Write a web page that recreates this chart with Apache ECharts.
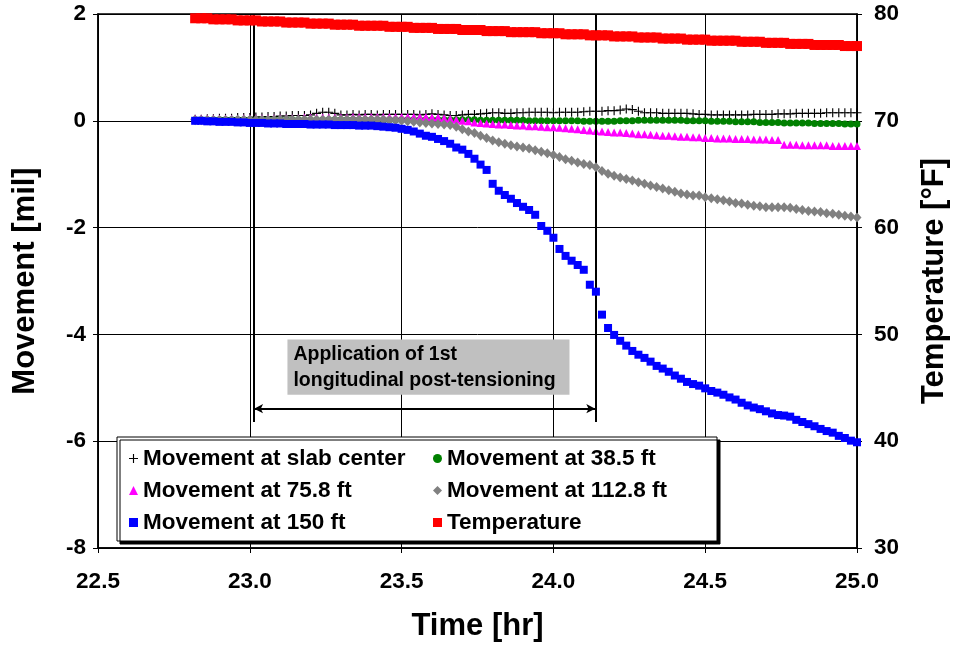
<!DOCTYPE html>
<html>
<head>
<meta charset="utf-8">
<script src="https://cdn.jsdelivr.net/npm/echarts@6/dist/echarts.min.js"></script>
<style>html,body{margin:0;padding:0;background:#fff}#c{width:958px;height:647px}</style>
</head>
<body>
<div id="c"></div>
<script>
const times = [
22.82,22.84,22.86,22.88,22.90,22.92,22.94,22.96,22.98,23.00,
23.02,23.04,23.06,23.08,23.10,23.12,23.14,23.16,23.18,23.20,
23.22,23.24,23.26,23.28,23.30,23.32,23.34,23.36,23.38,23.40,
23.42,23.44,23.46,23.48,23.50,23.52,23.54,23.56,23.58,23.60,
23.62,23.64,23.66,23.68,23.70,23.72,23.74,23.76,23.78,23.80,
23.82,23.84,23.86,23.88,23.90,23.92,23.94,23.96,23.98,24.00,
24.02,24.04,24.06,24.08,24.10,24.12,24.14,24.16,24.18,24.20,
24.22,24.24,24.26,24.28,24.30,24.32,24.34,24.36,24.38,24.40,
24.42,24.44,24.46,24.48,24.50,24.52,24.54,24.56,24.58,24.60,
24.62,24.64,24.66,24.68,24.70,24.72,24.74,24.76,24.78,24.80,
24.82,24.84,24.86,24.88,24.90,24.92,24.94,24.96,24.98,25.00];

const movCenter = [
0.03,0.03,0.04,0.04,0.05,0.05,0.05,0.06,0.06,0.06,
0.07,0.07,0.08,0.08,0.09,0.09,0.10,0.10,0.10,0.11,
0.14,0.16,0.16,0.14,0.11,0.11,0.12,0.11,0.12,0.12,
0.11,0.12,0.12,0.12,0.12,0.12,0.12,0.11,0.12,0.13,
0.12,0.11,0.10,0.10,0.11,0.12,0.12,0.13,0.14,0.15,
0.15,0.14,0.14,0.15,0.15,0.16,0.16,0.16,0.16,0.15,
0.16,0.16,0.16,0.16,0.17,0.18,0.18,0.18,0.19,0.19,
0.20,0.22,0.21,0.18,0.15,0.15,0.15,0.14,0.14,0.14,
0.14,0.14,0.13,0.12,0.12,0.11,0.11,0.11,0.11,0.11,
0.11,0.11,0.12,0.12,0.12,0.12,0.13,0.13,0.13,0.14,
0.14,0.14,0.14,0.14,0.15,0.15,0.15,0.15,0.15,0.15];

const mov38 = [
0.02,0.02,0.02,0.02,0.02,0.02,0.02,0.02,0.02,0.02,
0.02,0.02,0.02,0.02,0.02,0.02,0.02,0.02,0.02,0.02,
0.02,0.02,0.02,0.02,0.02,0.02,0.02,0.02,0.02,0.02,
0.02,0.02,0.02,0.02,0.02,0.02,0.02,0.02,0.02,0.02,
0.02,0.02,0.02,0.02,0.02,0.02,0.02,0.01,0.01,0.01,
0.01,0.01,0.01,0.01,0.01,0.00,0.00,0.00,0.00,0.00,
0.00,0.00,0.00,0.00,-0.01,-0.01,-0.01,-0.01,-0.01,-0.01,
0.00,0.00,0.00,0.01,0.01,0.01,0.01,0.01,0.01,0.01,
0.01,0.00,0.00,0.00,0.00,-0.01,-0.01,-0.01,-0.01,-0.02,
-0.02,-0.02,-0.02,-0.03,-0.03,-0.03,-0.03,-0.04,-0.04,-0.04,
-0.04,-0.04,-0.05,-0.05,-0.05,-0.05,-0.05,-0.06,-0.06,-0.06];

const mov75 = [
0.04,0.04,0.04,0.04,0.04,0.04,0.04,0.04,0.05,0.05,
0.05,0.05,0.05,0.05,0.05,0.05,0.05,0.05,0.06,0.06,
0.06,0.06,0.06,0.06,0.06,0.06,0.07,0.07,0.07,0.07,
0.07,0.07,0.07,0.07,0.07,0.07,0.07,0.07,0.07,0.06,
0.06,0.05,0.04,0.02,0.00,-0.01,-0.03,-0.04,-0.05,-0.06,
-0.07,-0.07,-0.08,-0.09,-0.09,-0.10,-0.10,-0.11,-0.12,-0.12,
-0.13,-0.14,-0.15,-0.16,-0.17,-0.18,-0.19,-0.20,-0.21,-0.22,
-0.22,-0.23,-0.24,-0.25,-0.25,-0.26,-0.27,-0.28,-0.28,-0.29,
-0.30,-0.30,-0.31,-0.31,-0.32,-0.32,-0.33,-0.33,-0.33,-0.34,
-0.34,-0.34,-0.35,-0.35,-0.35,-0.36,-0.36,-0.45,-0.45,-0.45,
-0.46,-0.46,-0.46,-0.46,-0.46,-0.47,-0.47,-0.47,-0.47,-0.47];

const mov112 = [
0.01,0.01,0.01,0.01,0.01,0.01,0.01,0.02,0.02,0.02,
0.02,0.02,0.02,0.02,0.02,0.02,0.02,0.02,0.02,0.02,
0.02,0.02,0.02,0.02,0.02,0.02,0.02,0.02,0.02,0.02,
0.02,0.02,0.01,0.01,0.00,-0.01,-0.02,-0.03,-0.04,-0.05,
-0.06,-0.07,-0.08,-0.11,-0.16,-0.20,-0.23,-0.28,-0.32,-0.37,
-0.40,-0.43,-0.46,-0.48,-0.50,-0.52,-0.55,-0.58,-0.61,-0.64,
-0.68,-0.72,-0.75,-0.78,-0.81,-0.83,-0.87,-0.94,-0.99,-1.03,
-1.06,-1.09,-1.12,-1.15,-1.18,-1.21,-1.24,-1.27,-1.30,-1.33,
-1.36,-1.38,-1.40,-1.40,-1.43,-1.45,-1.47,-1.49,-1.51,-1.54,
-1.55,-1.57,-1.59,-1.60,-1.62,-1.62,-1.62,-1.62,-1.63,-1.65,
-1.67,-1.69,-1.70,-1.71,-1.73,-1.74,-1.76,-1.78,-1.79,-1.81];

const mov150 = [
0.00,0.00,-0.01,-0.01,-0.02,-0.02,-0.02,-0.03,-0.03,-0.04,
-0.04,-0.04,-0.05,-0.05,-0.05,-0.06,-0.06,-0.06,-0.06,-0.07,
-0.07,-0.07,-0.07,-0.08,-0.08,-0.08,-0.08,-0.09,-0.09,-0.09,
-0.10,-0.11,-0.12,-0.13,-0.15,-0.17,-0.20,-0.24,-0.28,-0.30,
-0.34,-0.38,-0.43,-0.50,-0.54,-0.62,-0.71,-0.82,-0.92,-1.18,
-1.31,-1.39,-1.46,-1.54,-1.61,-1.67,-1.76,-1.97,-2.06,-2.19,
-2.40,-2.53,-2.62,-2.70,-2.79,-3.07,-3.20,-3.63,-3.88,-4.01,
-4.12,-4.21,-4.31,-4.38,-4.44,-4.51,-4.59,-4.64,-4.70,-4.77,
-4.83,-4.89,-4.93,-4.96,-5.01,-5.06,-5.09,-5.13,-5.18,-5.22,
-5.28,-5.33,-5.37,-5.40,-5.44,-5.48,-5.51,-5.52,-5.54,-5.60,
-5.64,-5.68,-5.72,-5.77,-5.81,-5.84,-5.90,-5.94,-5.99,-6.02];

const temperature = [
79.6,79.6,79.6,79.5,79.5,79.5,79.5,79.4,79.4,79.4,
79.4,79.3,79.3,79.3,79.3,79.2,79.2,79.2,79.2,79.1,
79.1,79.1,79.1,79.0,79.0,79.0,79.0,78.9,78.9,78.9,
78.9,78.9,78.8,78.8,78.8,78.8,78.7,78.7,78.7,78.7,
78.6,78.6,78.6,78.6,78.5,78.5,78.5,78.5,78.4,78.4,
78.4,78.4,78.3,78.3,78.3,78.3,78.3,78.2,78.2,78.2,
78.2,78.1,78.1,78.1,78.1,78.0,78.0,78.0,78.0,77.9,
77.9,77.9,77.9,77.8,77.8,77.8,77.8,77.7,77.7,77.7,
77.7,77.6,77.6,77.6,77.6,77.5,77.5,77.5,77.5,77.5,
77.4,77.4,77.4,77.4,77.3,77.3,77.3,77.3,77.2,77.2,
77.2,77.2,77.1,77.1,77.1,77.1,77.1,77.0,77.0,77.0];

// annotation (in data units)
const tensionStart = 23.014;
const tensionEnd = 24.138;
const markTop = 2;
const markBottom = -5.64;
const arrowLevel = -5.39;
const noteBox = [[23.124, -4.095], [24.053, -5.13]];
const noteText = 'Application of 1st\nlongitudinal post-tensioning';

const names = ['Movement at slab center','Movement at 38.5 ft','Movement at 75.8 ft','Movement at 112.8 ft','Movement at 150 ft','Temperature'];

const FONT = '"Liberation Sans", Arial, sans-serif';
const plusPath = 'path://M3.5,0H4.5V3.5H8V4.5H4.5V8H3.5V4.5H0V3.5H3.5Z';
const pairs = arr => times.map((t, i) => [t, arr[i]]);

const chart = echarts.init(document.getElementById('c'), null, {renderer: 'canvas'});

function sc(name, arr, symbol, size, color, z, yIdx) {
  return {
    name, type: 'scatter', data: pairs(arr), symbol, symbolSize: size,
    yAxisIndex: yIdx || 0, itemStyle: {color, opacity: 1}, z,
    emphasis: {disabled: true}, silent: true
  };
}

const series = [
  sc(names[0], movCenter, plusPath, 9, '#000000', 2),
  sc(names[1], mov38, 'circle', 7, '#008000', 3),
  sc(names[2], mov75, 'triangle', 8, '#FF00FF', 4),
  sc(names[3], mov112, 'diamond', [9, 10], '#808080', 5),
  sc(names[4], mov150, 'rect', 8, '#0000FF', 6),
  sc(names[5], temperature, 'rect', 10, '#FF0000', 7, 1)
];

series[4].markLine = {
  silent: true, symbol: 'none', animation: false,
  lineStyle: {color: '#000', width: 2, type: 'solid'},
  label: {show: false},
  data: [
    [{coord: [tensionStart, markTop]}, {coord: [tensionStart, markBottom]}],
    [{coord: [tensionEnd, markTop]}, {coord: [tensionEnd, markBottom]}],
    [{coord: [tensionStart, arrowLevel], symbol: 'arrow', symbolSize: [7, 9]},
     {coord: [tensionEnd, arrowLevel], symbol: 'arrow', symbolSize: [7, 9]}]
  ]
};
series[4].markArea = {
  silent: true,
  itemStyle: {color: '#C0C0C0', opacity: 1},
  label: {
    show: true, position: [6, 2], color: '#000', fontFamily: FONT,
    fontWeight: 'bold', fontSize: 19.5, lineHeight: 26, align: 'left', verticalAlign: 'top'
  },
  data: [[{coord: noteBox[0], name: noteText}, {coord: noteBox[1]}]]
};

const legendText = {fontFamily: FONT, fontWeight: 'bold', fontSize: 22.5, color: '#000'};

const option = {
  animation: false,
  backgroundColor: '#fff',
  grid: {left: 98, right: 99, top: 14, bottom: 99, show: true, borderColor: '#000', borderWidth: 1.5},
  xAxis: {
    type: 'value', min: 22.5, max: 25, interval: 0.5,
    name: 'Time [hr]', nameLocation: 'middle', nameGap: 63,
    nameTextStyle: {fontFamily: FONT, fontWeight: 'bold', fontSize: 31, color: '#000'},
    axisLine: {show: true, onZero: false, lineStyle: {color: '#000', width: 1.5}},
    axisTick: {show: true, inside: false, length: 5, lineStyle: {color: '#000'}},
    axisLabel: {fontFamily: FONT, fontWeight: 'bold', fontSize: 22.5, color: '#000', margin: 22,
      formatter: v => v.toFixed(1)},
    splitLine: {show: true, lineStyle: {color: '#000', width: 1}}
  },
  yAxis: [{
    type: 'value', min: -8, max: 2, interval: 2,
    name: 'Movement [mil]', nameLocation: 'middle', nameGap: 57, nameRotate: 90,
    nameTextStyle: {fontFamily: FONT, fontWeight: 'bold', fontSize: 31, color: '#000'},
    axisLine: {show: true, onZero: false, lineStyle: {color: '#000', width: 1.5}},
    axisTick: {show: true, inside: false, length: 5, lineStyle: {color: '#000'}},
    axisLabel: {fontFamily: FONT, fontWeight: 'bold', fontSize: 22.5, color: '#000', margin: 12},
    splitLine: {show: true, lineStyle: {color: '#000', width: 1}}
  }, {
    type: 'value', min: 30, max: 80, interval: 10, position: 'right',
    name: 'Temperature [°F]', nameLocation: 'middle', nameGap: 62, nameRotate: 90,
    nameTextStyle: {fontFamily: FONT, fontWeight: 'bold', fontSize: 31, color: '#000'},
    axisLine: {show: true, lineStyle: {color: '#000', width: 1.5}},
    axisTick: {show: true, inside: false, length: 5, lineStyle: {color: '#000'}},
    axisLabel: {fontFamily: FONT, fontWeight: 'bold', fontSize: 22.5, color: '#000', margin: 17},
    splitLine: {show: false}
  }],
  legend: [{
    left: 124, top: 442, orient: 'vertical', itemGap: 9, itemWidth: 9, itemHeight: 9,
    data: [names[0], names[2], names[4]], textStyle: legendText, selectedMode: false, z: 10
  }, {
    left: 428, top: 442, orient: 'vertical', itemGap: 9, itemWidth: 9, itemHeight: 9,
    data: [names[1], names[3], names[5]], textStyle: legendText, selectedMode: false, z: 10
  }],
  graphic: [{
    type: 'rect', z: 8, silent: true,
    shape: {x: 117, y: 437, width: 600, height: 104},
    style: {fill: '#fff', stroke: '#000', lineWidth: 1, shadowColor: '#000', shadowOffsetX: 3, shadowOffsetY: 3, shadowBlur: 0}
  }],
  series
};
chart.setOption(option);
</script>
</body>
</html>
